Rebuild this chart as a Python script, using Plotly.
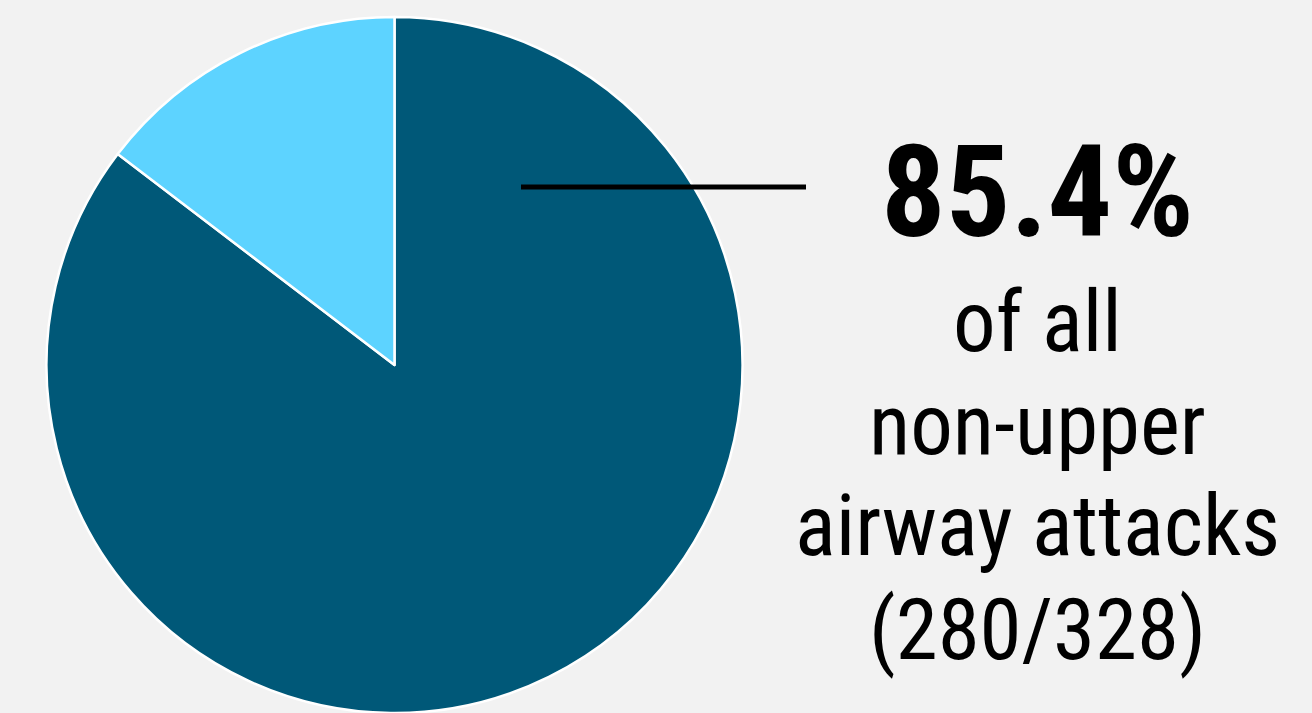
import plotly.graph_objects as go

labels = ["Non-upper airway attacks (280)", "Other (48)"]
values = [280, 48]
colors = ["#005878", "#5dd3ff"]
headline = "85.4%"
caption_lines = ["of all", "non-upper", "airway attacks", "(280/328)"]

W, H = 1312, 713
FONT = "Roboto Condensed, Liberation Sans Narrow, DejaVu Sans Condensed, Roboto, sans-serif"

fig = go.Figure()
fig.add_trace(go.Pie(
    labels=labels, values=values, sort=False, direction="clockwise", rotation=0,
    marker=dict(colors=colors, line=dict(color="white", width=2.5)),
    textinfo="none", hoverinfo="label+value+percent", showlegend=False,
    domain=dict(x=[46 / W, 743 / W], y=[0, 1 - 17 / H]),
))

def py(px):
    return 1 - px / H

fig.add_shape(type="line", xref="paper", yref="paper",
              x0=521 / W, x1=806 / W, y0=py(187), y1=py(187),
              line=dict(color="black", width=5))

fig.add_annotation(x=1037 / W, y=py(192), xref="paper", yref="paper",
                   text="<b>" + headline + "</b>", showarrow=False,
                   xanchor="center", yanchor="middle",
                   font=dict(family=FONT, size=128, color="black"))

baselines = [349, 452, 553, 657]
for line, b in zip(caption_lines, baselines):
    fig.add_annotation(x=1037 / W, y=py(b - 27), xref="paper", yref="paper",
                       text=line, showarrow=False, xanchor="center", yanchor="middle",
                       font=dict(family=FONT, size=85, color="black"))

fig.update_layout(width=W, height=H, margin=dict(l=0, r=0, t=0, b=0),
                  paper_bgcolor="#f2f2f2", plot_bgcolor="#f2f2f2")
fig.write_html("out.html", config={"displayModeBar": False},
               post_script="document.body.style.margin='0';document.body.style.overflow='hidden';")
